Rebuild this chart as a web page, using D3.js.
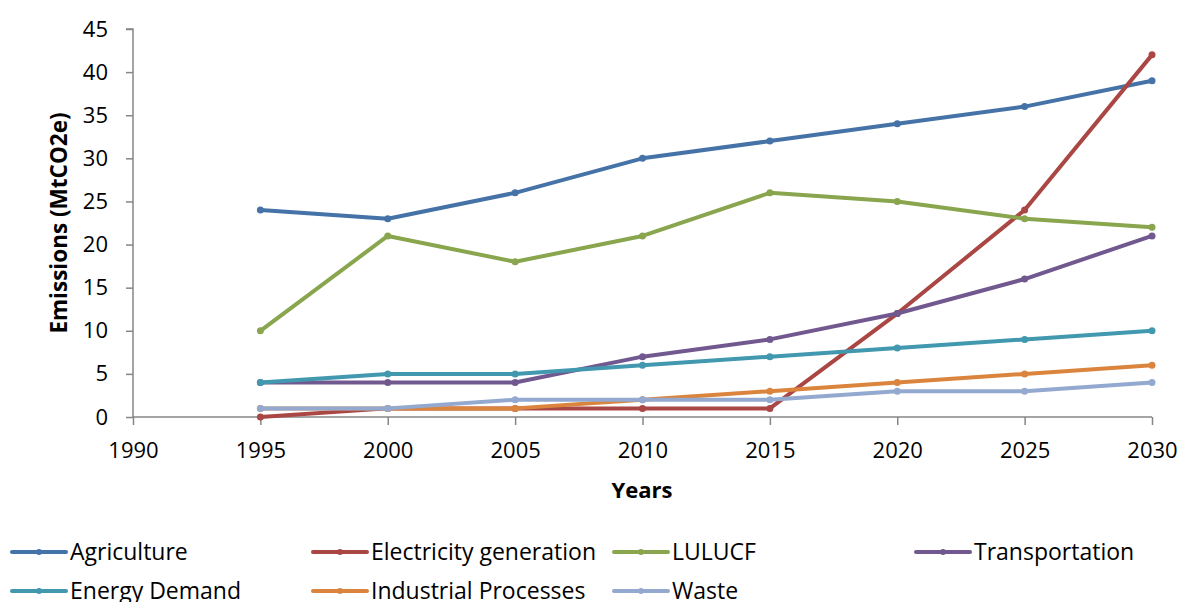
<!DOCTYPE html>
<html><head><meta charset="utf-8">
<script src="https://cdn.jsdelivr.net/npm/d3@7"></script>
<style>body{margin:0;background:#fff;} svg{display:block;font-family:"Open Sans",sans-serif;}</style>
</head><body>
<svg id="c" width="1181" height="602"></svg>
<script>
const years = [1995, 2000, 2005, 2010, 2015, 2020, 2025, 2030];
const xTicks = [1990, 1995, 2000, 2005, 2010, 2015, 2020, 2025, 2030];
const yTicks = [0, 5, 10, 15, 20, 25, 30, 35, 40, 45];
const seriesNames = ["Agriculture", "Electricity generation", "LULUCF", "Transportation", "Energy Demand", "Industrial Processes", "Waste"];
const agriculture = [24, 23, 26, 30, 32, 34, 36, 39];
const electricity = [0, 1, 1, 1, 1, 12, 24, 42];
const lulucf = [10, 21, 18, 21, 26, 25, 23, 22];
const transportation = [4, 4, 4, 7, 9, 12, 16, 21];
const energyDemand = [4, 5, 5, 6, 7, 8, 9, 10];
const industrial = [1, 1, 1, 2, 3, 4, 5, 6];
const waste = [1, 1, 2, 2, 2, 3, 3, 4];
const colors = ["#4572A7", "#AA4643", "#89A54E", "#71588F", "#4198AF", "#DB843D", "#93A9CF"];
const values = [agriculture, electricity, lulucf, transportation, energyDemand, industrial, waste];

const svg = d3.select("#c");
const x = d3.scaleLinear().domain([1990, 2030]).range([133, 1152]);
const y = d3.scaleLinear().domain([0, 45]).range([417, 29]);
const axisColor = "#868686";

const gx = svg.append("g").attr("transform", `translate(0,${y(0)})`)
  .call(d3.axisBottom(x).tickValues(xTicks).tickFormat(d3.format("d")).tickSize(8).tickPadding(17));
const gy = svg.append("g").attr("transform", `translate(${x(1990)},0)`)
  .call(d3.axisLeft(y).tickValues(yTicks).tickSize(7).tickPadding(18));
[gx, gy].forEach(g => {
  g.select(".domain").attr("stroke", axisColor).attr("stroke-width", 1.5);
  g.selectAll(".tick line").attr("stroke", axisColor).attr("stroke-width", 1.5);
  g.selectAll("text").attr("fill", "#000").style("font-size", "22px").style("font-family", '"Open Sans",sans-serif');
});
gy.select(".domain").attr("d", `M-7,${y(45)}H0V${y(0)}`);
gx.select(".domain").attr("d", `M${x(1990)},0H${x(2030)}`);

svg.append("text").attr("x", 642).attr("y", 498).attr("text-anchor", "middle")
  .style("font-size", "22px").style("font-weight", "bold").text("Years");
svg.append("text").attr("transform", "translate(67,223) rotate(-90)").attr("text-anchor", "middle")
  .style("font-size", "22.5px").style("font-weight", "bold").text("Emissions (MtCO2e)");

const line = d3.line().x((d, i) => x(years[i])).y(d => y(d));
values.forEach((vals, k) => {
  const g = svg.append("g");
  g.append("path").datum(vals).attr("d", line).attr("fill", "none")
    .attr("stroke", colors[k]).attr("stroke-width", 4).attr("stroke-linejoin", "round").attr("stroke-linecap", "round");
  g.selectAll("circle").data(vals).join("circle")
    .attr("cx", (d, i) => x(years[i])).attr("cy", d => y(d)).attr("r", 3.5).attr("fill", colors[k]);
});

// legend
const legX = [12, 313, 614, 916];
const legY = [552, 591];
seriesNames.forEach((name, k) => {
  const col = k % 4, row = Math.floor(k / 4);
  const g = svg.append("g").attr("transform", `translate(${legX[col]},${legY[row]})`);
  g.append("line").attr("x1", 0).attr("x2", 54).attr("y1", 0).attr("y2", 0)
    .attr("stroke", colors[k]).attr("stroke-width", 4).attr("stroke-linecap", "round");
  g.append("circle").attr("cx", 27).attr("cy", 0).attr("r", 3).attr("fill", colors[k]);
  g.append("text").attr("x", 58).attr("y", 0).attr("dy", "0.36em")
    .style("font-size", "23px").text(name);
});
</script>
</body></html>
